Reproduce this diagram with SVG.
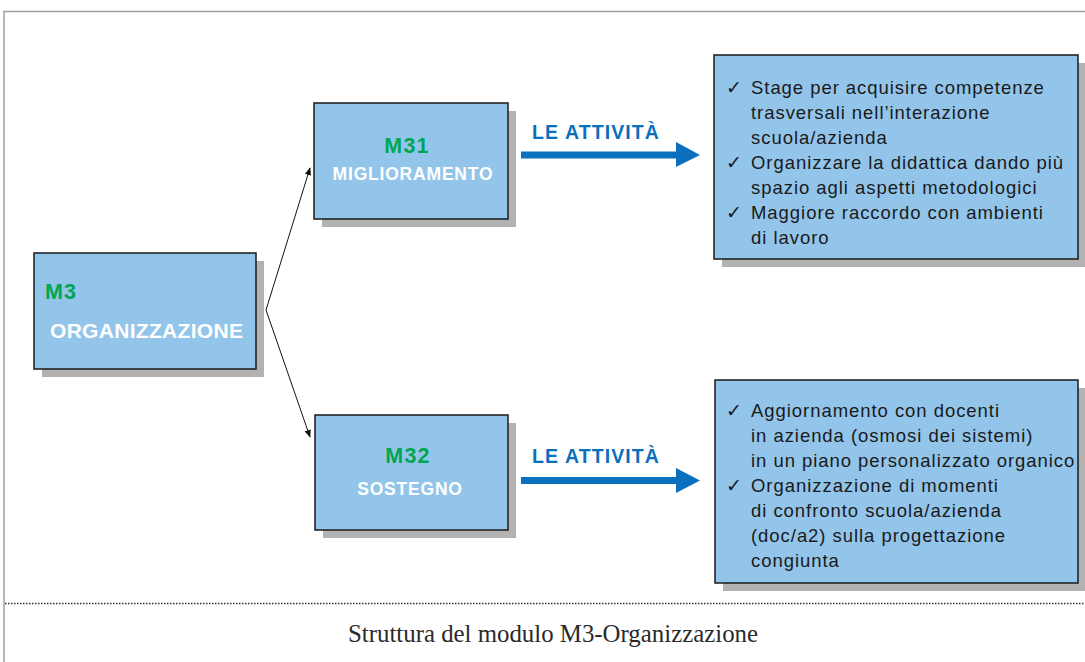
<svg xmlns="http://www.w3.org/2000/svg" width="1085" height="662" viewBox="0 0 1085 662">
<style>
.shadow{fill:#b2b2b2}
.box{fill:#93c5ea;stroke:#1a1a1a;stroke-width:1.5}
.code{font-family:"Liberation Sans",Arial,sans-serif;font-weight:bold;fill:#00a651;font-size:21.5px;letter-spacing:1.2px}
.name{font-family:"Liberation Sans",Arial,sans-serif;font-weight:bold;fill:#ffffff}
.lab{font-family:"Liberation Sans",Arial,sans-serif;font-weight:bold;fill:#0a6fbd;font-size:19.5px;letter-spacing:1.1px}
.item{font-family:"Liberation Sans",Arial,sans-serif;font-size:18.5px;letter-spacing:0.95px;fill:#1a1a1a}
.conn{stroke:#111;stroke-width:1;fill:none}
.big{fill:#0a6fbd}
</style>
<defs>
<marker id="ah" viewBox="0 0 10 10" refX="9" refY="5" markerWidth="8" markerHeight="8" orient="auto" markerUnits="userSpaceOnUse">
<path d="M0,1 L10,5 L0,9 Z" fill="#111"/>
</marker>
</defs>
<rect width="1085" height="662" fill="#fff"/>
<g id="frame">
<path d="M3,11.5 H1085" stroke="#a0a0a0" stroke-width="1.5" fill="none"/>
<path d="M4,11 V662" stroke="#a0a0a0" stroke-width="1.5" fill="none"/>
<path d="M5,603.5 H1085" stroke="#333" stroke-width="1.5" stroke-dasharray="1.5 1.5" fill="none"/>
<text x="348" y="642" textLength="410" lengthAdjust="spacingAndGlyphs" font-family="Liberation Serif,'Times New Roman',serif" font-size="25" fill="#2a2a2a">Struttura del modulo M3-Organizzazione</text>
</g>
<g id="connectors">
<path class="conn" d="M266,310 L310,168" marker-end="url(#ah)"/>
<path class="conn" d="M266,310 L310,437" marker-end="url(#ah)"/>
<g id="arrow-m31">
<rect class="big" x="521" y="151.5" width="157" height="7"/>
<path class="big" d="M676,142 L700,155 L676,167 Z"/>
</g>
<g id="arrow-m32">
<rect class="big" x="521" y="477" width="157" height="7"/>
<path class="big" d="M676,468 L700,480.5 L676,493 Z"/>
</g>
</g>
<g id="m3">
<rect class="shadow" x="42" y="261" width="222" height="116"/>
<rect class="box" x="34" y="253" width="222" height="116"/>
<text class="code" x="45" y="299">M3</text>
<text class="name" x="50" y="338" font-size="21" letter-spacing="0.3">ORGANIZZAZIONE</text>
</g>
<g id="m31">
<rect class="shadow" x="322" y="111" width="194" height="116"/>
<rect class="box" x="314" y="103" width="194" height="116"/>
<text class="code" x="407" y="153" text-anchor="middle">M31</text>
<text class="name" x="413" y="180" font-size="17.5" letter-spacing="0.8" text-anchor="middle">MIGLIORAMENTO</text>
</g>
<g id="m32">
<rect class="shadow" x="323" y="423" width="193" height="115"/>
<rect class="box" x="315" y="415" width="193" height="115"/>
<text class="code" x="408" y="463" text-anchor="middle">M32</text>
<text class="name" x="410" y="495" font-size="17.5" letter-spacing="0.8" text-anchor="middle">SOSTEGNO</text>
</g>
<g id="label-1"><text class="lab" x="532" y="139">LE ATTIVITÀ</text></g>
<g id="label-2"><text class="lab" x="532" y="463">LE ATTIVITÀ</text></g>
<g id="activities-m31">
<rect class="shadow" x="722" y="63" width="364" height="204"/>
<rect class="box" x="714" y="55" width="364" height="204"/>
<text class="item" x="726" y="94">✓</text>
<text class="item" x="751" y="94">Stage per acquisire competenze</text>
<text class="item" x="751" y="119">trasversali nell’interazione</text>
<text class="item" x="751" y="144">scuola/azienda</text>
<text class="item" x="726" y="169">✓</text>
<text class="item" x="751" y="169">Organizzare la didattica dando più</text>
<text class="item" x="751" y="194">spazio agli aspetti metodologici</text>
<text class="item" x="726" y="219">✓</text>
<text class="item" x="751" y="219">Maggiore raccordo con ambienti</text>
<text class="item" x="751" y="244">di lavoro</text>
</g>
<g id="activities-m32">
<rect class="shadow" x="723" y="388" width="363" height="203"/>
<rect class="box" x="715" y="380" width="363" height="203"/>
<text class="item" x="726" y="417">✓</text>
<text class="item" x="751" y="417">Aggiornamento con docenti</text>
<text class="item" x="751" y="442">in azienda (osmosi dei sistemi)</text>
<text class="item" x="751" y="467">in un piano personalizzato organico</text>
<text class="item" x="726" y="492">✓</text>
<text class="item" x="751" y="492">Organizzazione di momenti</text>
<text class="item" x="751" y="517">di confronto scuola/azienda</text>
<text class="item" x="751" y="542">(doc/a2) sulla progettazione</text>
<text class="item" x="751" y="567">congiunta</text>
</g>
</svg>
